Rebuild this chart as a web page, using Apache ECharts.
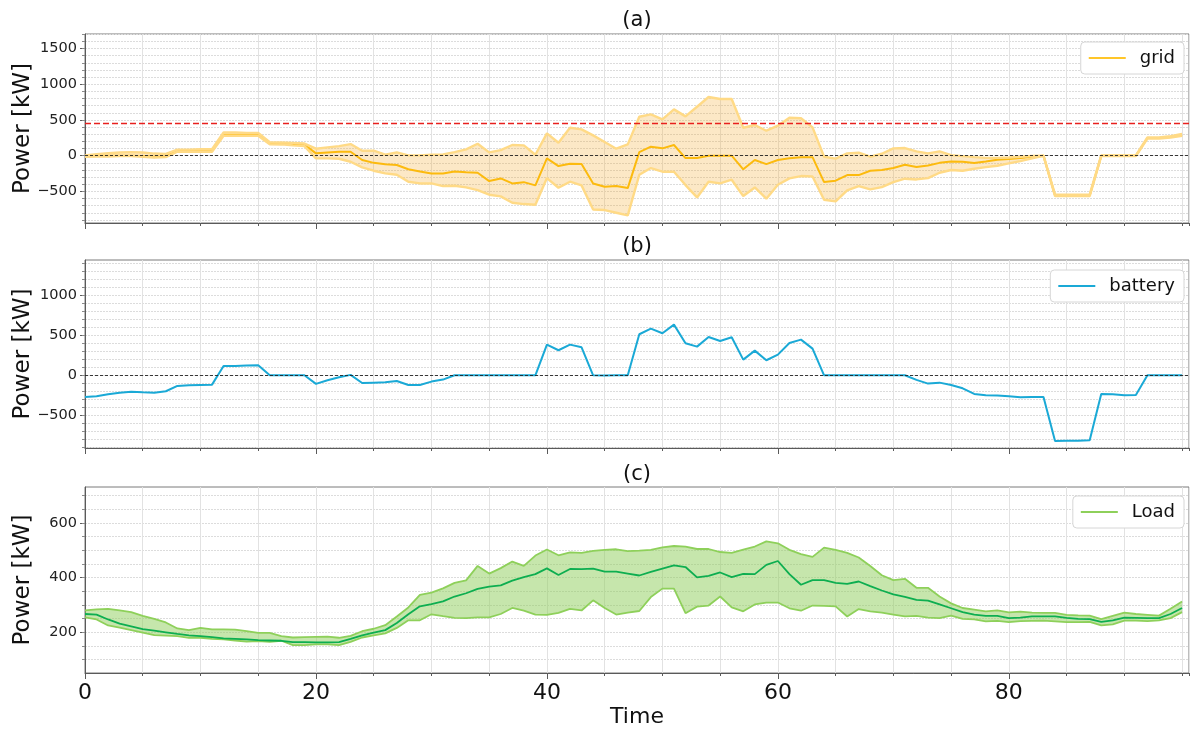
<!DOCTYPE html>
<html>
<head>
<meta charset="utf-8">
<script src="https://cdn.jsdelivr.net/npm/echarts@6/dist/echarts.min.js"></script>
<style>
  html, body { margin: 0; padding: 0; background: #fff; }
  #chart { width: 1190px; height: 729px; }
</style>
</head>
<body>
<div id="chart"></div>
<script>
// ---- data -------------------------------------------------------------
const timeSteps = Array.from({ length: 96 }, (_, i) => i);

// (a) grid power: mean and band
const gridMean = [
  0, 0, 0, 0, 0, -5, -15, -10,
  70, 70, 70, 70, 295, 295, 295, 295,
  173, 170, 160, 155, 33, 45, 55, 55,
  -60, -100, -120, -130, -190, -220, -250, -250,
  -220, -230, -238, -355, -318, -388, -370, -415,
  -37, -145, -112, -117, -388, -434, -425, -453,
  51, 126, 103, 150, -33, -33, 0, 0,
  0, -190, -60, -117, -60, -37, -20, -20,
  -369, -350, -271, -271, -210, -200, -173, -126,
  -159, -136, -100, -80, -84, -103, -80, -56,
  -47, -33, -14, 0, -556, -556, -556, -556,
  0, 0, 0, 0, 248, 248, 262, 290
];
const gridUpper = [
  5, 20, 35, 45, 50, 45, 30, 25,
  85, 85, 90, 90, 325, 325, 320, 320,
  190, 185, 180, 170, 98, 117, 135, 163,
  70, 70, 14, 47, 5, 5, 14, 19,
  51, 89, 168, 47, 79, 150, 145, 14,
  313, 182, 392, 369, 285, 191, 98, 159,
  546, 579, 509, 649, 551, 686, 822, 794,
  794, 392, 430, 350, 420, 532, 525, 397,
  -14, -40, 33, 42, -14, 28, 103, 107,
  61, 33, 61, 9, -5, -20, -30, -30,
  -25, -15, -5, 0, -545, -545, -545, -545,
  5, 5, 5, 5, 255, 255, 275, 305
];
const gridLower = [
  -15, -10, -10, -5, -5, -15, -25, -20,
  55, 55, 55, 55, 280, 280, 280, 280,
  160, 158, 145, 135, -37, -37, -42, -84,
  -163, -210, -247, -266, -364, -388, -388, -425,
  -420, -444, -481, -546, -570, -658, -677, -686,
  -313, -448, -364, -415, -752, -761, -798, -836,
  -266, -173, -224, -224, -411, -584, -364, -388,
  -336, -565, -444, -602, -406, -318, -285, -290,
  -616, -640, -486, -425, -472, -439, -369, -322,
  -332, -313, -238, -200, -210, -182, -159, -140,
  -107, -75, -37, 0, -565, -565, -565, -565,
  -5, -5, -5, -5, 240, 240, 255, 280
];
const gridLimit = 450;

// (b) battery power
const battery = [
  -271, -262, -237, -217, -205, -213, -217, -200,
  -133, -125, -121, -117, 117, 117, 121, 125,
  0, 0, 0, 0, -108, -63, -25, 5,
  -96, -92, -88, -71, -121, -121, -79, -54,
  0, 0, 0, 0, 0, 0, 0, 0,
  383, 313, 383, 350, 0, -4, 0, 0,
  513, 583, 525, 633, 400, 358, 479, 429,
  475, 196, 308, 188, 258, 404, 446, 333,
  0, 0, 0, 0, 0, 0, 0, 0,
  -58, -104, -92, -121, -163, -233, -250, -254,
  -262, -275, -271, -271, -821, -817, -817, -812,
  -233, -237, -250, -246, 0, 0, 0, 0
];

// (c) load: mean and band
const loadMean = [
  267, 265, 247, 232, 222, 212, 206, 200, 194, 189,
  186, 182, 178, 176, 174, 171, 170, 169, 164, 164,
  163, 163, 164, 176, 189, 199, 208, 234, 266, 295,
  303, 313, 331, 343, 359, 367, 372, 389, 402, 413,
  434, 410, 432, 431, 433, 422, 422, 415, 408, 421,
  433, 445, 439, 401, 407, 419, 402, 414, 413, 447,
  461, 413, 374, 391, 391, 381, 377, 386, 369, 353,
  339, 330, 319, 316, 302, 288, 274, 265, 260, 260,
  252, 254, 258, 258, 258, 253, 249, 248, 238, 244,
  254, 253, 252, 252, 267, 289
];
const loadUpper = [
  280, 284, 286, 280, 274, 260, 249, 236, 214, 208,
  216, 211, 211, 210, 204, 198, 198, 186, 181, 182,
  183, 184, 180, 187, 204, 213, 226, 258, 291, 337,
  345, 361, 381, 390, 443, 415, 435, 459, 443, 481,
  503, 482, 493, 491, 498, 502, 504, 497, 499, 502,
  511, 516, 514, 505, 505, 494, 491, 503, 514, 533,
  526, 502, 486, 476, 510, 502, 491, 474, 443, 409,
  391, 396, 363, 363, 331, 306, 289, 283, 277, 280,
  273, 276, 272, 271, 271, 264, 262, 261, 248, 260,
  272, 267, 264, 261, 286, 313
];
const loadLower = [
  255, 247, 225, 217, 208, 199, 190, 188, 186, 180,
  180, 176, 174, 170, 166, 168, 165, 169, 153, 153,
  156, 156, 153, 165, 181, 189, 196, 216, 244, 244,
  266, 259, 253, 252, 255, 255, 267, 289, 279, 265,
  264, 271, 286, 280, 317, 289, 265, 272, 278, 329,
  360, 360, 270, 294, 298, 331, 291, 277, 302, 309,
  309, 288, 279, 298, 297, 295, 258, 285, 277, 272,
  265, 258, 260, 254, 252, 261, 249, 247, 240, 242,
  237, 241, 242, 243, 240, 237, 237, 238, 225, 229,
  243, 243, 241, 244, 252, 274
];

// tick labels
const timeTicks = [0, 20, 40, 60, 80];
const gridTicks = [-500, 0, 500, 1000, 1500];
const batteryTicks = [-500, 0, 500, 1000];
const loadTicks = [200, 400, 600];

// ---- helpers ----------------------------------------------------------
const FONT = '"DejaVu Sans", "Liberation Sans", sans-serif';
const AXIS_COLOR = '#5a5a5a';

function stepValues(from, to, step) {
  const out = [];
  for (let v = from; v <= to + 1e-9; v += step) out.push(v);
  return out;
}
const minus = v => String(v).replace('-', '\u2212');
const pairs = ys => timeSteps.map((t, i) => [t, ys[i]]);

const panels = [
  { top: 34, height: 189, min: -942, max: 1704, majors: gridTicks, minors: stepValues(-900, 1700, 100) },
  { top: 260, height: 188, min: -909, max: 1441, majors: batteryTicks, minors: stepValues(-900, 1400, 100) },
  { top: 487, height: 189, min: 51, max: 732, majors: loadTicks, minors: stepValues(100, 700, 50) }
];
const X_MAX = 95.6;

const grids = [], xAxes = [], yAxes = [];
panels.forEach((p, k) => {
  grids.push({
    left: 85, right: 1, top: p.top, height: p.height,
    show: true, borderColor: '#7a7a7a', borderWidth: 1, backgroundColor: 'transparent'
  });
  const bottom = k === panels.length - 1;
  xAxes.push({
    type: 'value', gridIndex: k, min: 0, max: X_MAX, position: 'bottom',
    axisLine: { show: true, onZero: false, lineStyle: { color: AXIS_COLOR, width: 1 } },
    axisTick: { show: true, customValues: timeTicks, length: 6, lineStyle: { color: AXIS_COLOR } },
    axisLabel: {
      show: bottom, customValues: timeTicks, fontSize: 22, color: '#111',
      fontFamily: FONT, margin: 9
    },
    splitLine: { show: false },
    name: bottom ? 'Time' : '', nameLocation: 'middle', nameGap: 33, nameMoveOverlap: false,
    nameTextStyle: { fontSize: 22, color: '#111', fontFamily: FONT }
  });
  xAxes.push({
    type: 'value', gridIndex: k, min: 0, max: X_MAX, interval: 5, position: 'bottom',
    axisLine: { show: false, onZero: false },
    axisTick: { show: true, length: 3, lineStyle: { color: AXIS_COLOR } },
    axisLabel: { show: false },
    splitLine: { show: true, lineStyle: { color: '#e2e2e2', width: 1 } }
  });
  yAxes.push({
    type: 'value', gridIndex: k, min: p.min, max: p.max, position: 'left',
    axisLine: { show: true, onZero: false, lineStyle: { color: AXIS_COLOR, width: 1 } },
    axisTick: { show: true, customValues: p.majors, length: 5, lineStyle: { color: AXIS_COLOR } },
    axisLabel: {
      customValues: p.majors, fontSize: 14.5, color: '#222', fontFamily: FONT,
      margin: 8, formatter: minus
    },
    splitLine: { show: false },
    name: 'Power [kW]', nameLocation: 'middle', nameGap: 50, nameRotate: 90, nameMoveOverlap: false,
    nameTextStyle: { fontSize: 23, color: '#111', fontFamily: FONT }
  });
  yAxes.push({
    type: 'value', gridIndex: k, min: p.min, max: p.max, position: 'left', offset: 0,
    axisLine: { show: false, onZero: false },
    axisTick: { show: true, customValues: p.minors, length: 3, lineStyle: { color: '#8a8a8a' } },
    axisLabel: { show: false },
    splitLine: { show: true, lineStyle: { color: '#dcdcdc', width: 1, type: [2, 1] } }
  });
});

// shaded band between lower and upper: one filled polygon plus its two edges
function band(k, lower, upper, edge, edgeWidth, fill, zFill, zEdge, refLines) {
  const axes = { xAxisIndex: 2 * k, yAxisIndex: 2 * k };
  const fillSeries = Object.assign({
    type: 'custom', silent: true, z: zFill, clip: true,
    data: timeSteps.map((t, i) => [t, lower[i], upper[i]]),
    encode: { x: 0, y: [1, 2] },
    renderItem: (params, api) => {
      if (params.dataIndex !== 0) return null;
      const pts = [];
      timeSteps.forEach((t, i) => pts.push(api.coord([t, upper[i]])));
      for (let i = timeSteps.length - 1; i >= 0; i--) pts.push(api.coord([timeSteps[i], lower[i]]));
      return { type: 'polygon', shape: { points: pts }, style: { fill: fill, stroke: null } };
    }
  }, axes);
  const edgeLine = ys => Object.assign({
    type: 'line', data: pairs(ys), symbol: 'none', silent: true, z: zEdge,
    lineStyle: { color: edge, width: edgeWidth }, itemStyle: { color: edge }
  }, axes);
  const upperLine = edgeLine(upper);
  if (refLines) {
    upperLine.markLine = {
      silent: true, symbol: 'none', label: { show: false }, animation: false, data: refLines
    };
  }
  return [fillSeries, edgeLine(lower), upperLine];
}

const zeroLine = { yAxis: 0, lineStyle: { color: '#222', type: [3, 2], width: 0.9 } };
const limitLine = { yAxis: gridLimit, lineStyle: { color: '#E8201E', type: [6, 3], width: 1.3 } };

const series = [
  {
    name: 'grid', type: 'line', xAxisIndex: 0, yAxisIndex: 0, data: pairs(gridMean),
    symbol: 'none', z: 2, lineStyle: { color: '#FFC000', width: 2 }, itemStyle: { color: '#FFC000' }
  },
  ...band(0, gridLower, gridUpper, '#FFDA86', 2.4, 'rgba(245,172,52,0.28)', 3, 4, [zeroLine, limitLine]),
  {
    name: 'battery', type: 'line', xAxisIndex: 2, yAxisIndex: 2, data: pairs(battery),
    symbol: 'none', z: 3, lineStyle: { color: '#1AA9D6', width: 2 }, itemStyle: { color: '#1AA9D6' },
    markLine: {
      silent: true, symbol: 'none', label: { show: false }, animation: false,
      data: [zeroLine]
    }
  },
  ...band(2, loadLower, loadUpper, '#8ED05A', 1.8, 'rgba(142,206,90,0.5)', 1, 2, null),
  {
    name: 'Load', type: 'line', xAxisIndex: 4, yAxisIndex: 4, data: pairs(loadMean),
    symbol: 'none', z: 4, lineStyle: { color: '#0DAE50', width: 1.8 }, itemStyle: { color: '#8ED05A' }
  }
];

function legendBox(name, color, top) {
  return {
    data: [{ name: name, itemStyle: { color: color } }],
    right: 6, top: top, icon: 'rect', itemWidth: 37, itemHeight: 2,
    padding: [7, 9, 7, 8], backgroundColor: '#fff', borderColor: '#d6d6d6',
    borderWidth: 1, borderRadius: 4, selectedMode: false,
    textStyle: { fontSize: 18, color: '#111', fontFamily: FONT, padding: [0, 0, 0, 9] }
  };
}

function panelTitle(text, y) {
  return {
    type: 'text', x: 637, y: y, silent: true,
    style: {
      text: text, fill: '#111', fontSize: 21, fontFamily: FONT,
      align: 'center', verticalAlign: 'middle', textAlign: 'center', textVerticalAlign: 'middle'
    }
  };
}

const chart = echarts.init(document.getElementById('chart'), null, { renderer: 'canvas' });
chart.setOption({
  animation: false,
  backgroundColor: '#fff',
  grid: grids,
  xAxis: xAxes,
  yAxis: yAxes,
  legend: [
    legendBox('grid', '#FFC629', 42),
    legendBox('battery', '#1AA9D6', 270),
    legendBox('Load', '#8ED05A', 496)
  ],
  graphic: [panelTitle('(a)', 21), panelTitle('(b)', 247), panelTitle('(c)', 475)],
  series: series
});
</script>
</body>
</html>
